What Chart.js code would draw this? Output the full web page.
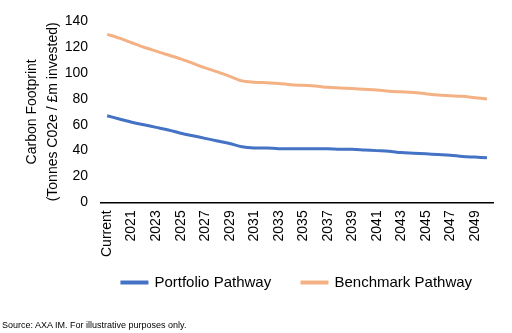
<!DOCTYPE html>
<html>
<head>
<meta charset="utf-8">
<script src="https://cdn.jsdelivr.net/npm/chart.js@4/dist/chart.umd.min.js"></script>
<style>
  html, body { margin: 0; padding: 0; background: #fff; }
  #wrap { position: relative; width: 512px; height: 333px; }
  #source { position: absolute; left: 2px; top: 320px; font: 9px "Liberation Sans", Arial, sans-serif; color: #000; }
</style>
</head>
<body>
<div id="wrap">
  <canvas id="line-chart" width="512" height="333"></canvas>
  <div id="source">Source: AXA IM. For illustrative purposes only.</div>
</div>
<script>
  const categories = ['Current', '2020', '2021', '2022', '2023', '2024', '2025', '2026', '2027', '2028',
    '2029', '2030', '2031', '2032', '2033', '2034', '2035', '2036', '2037', '2038', '2039', '2040',
    '2041', '2042', '2043', '2044', '2045', '2046', '2047', '2048', '2049', '2050'];

  const portfolio = [67, 64.5, 62, 60, 58, 56, 53.5, 51.5, 49.5, 47.5, 45.5, 43, 42, 42, 41.5, 41.5,
    41.5, 41.5, 41.5, 41, 41, 40.5, 40, 39.5, 38.5, 38, 37.5, 37, 36.5, 35.5, 35, 34.5];

  const benchmark = [130, 127, 123.5, 120, 117, 114, 111, 107.5, 104, 101, 97.5, 94, 93, 92.5, 92, 91,
    90.5, 90, 89, 88.5, 88, 87.5, 87, 86, 85.5, 85, 84, 83, 82.5, 82, 81, 80];

  const yTicks = [0, 20, 40, 60, 80, 100, 120, 140];

  const FONT = '"Liberation Sans", Arial, sans-serif';

  // legend in the original sits centred under the plot, not the whole canvas
  const legendShift = {
    id: 'legendShift',
    afterLayout(chart) {
      chart.legend.left += 96;
    }
  };

  const chartElement = document.getElementById('line-chart');

  const myChart = new Chart(chartElement, {
    type: 'line',
    data: {
      labels: categories,
      datasets: [
        {
          label: 'Portfolio Pathway',
          data: portfolio,
          borderColor: '#4472C4',
          backgroundColor: '#4472C4',
          borderWidth: 3,
          pointRadius: 0,
          tension: 0.3,
          fill: false
        },
        {
          label: 'Benchmark Pathway',
          data: benchmark,
          borderColor: '#F4B183',
          backgroundColor: '#F4B183',
          borderWidth: 3,
          pointRadius: 0,
          tension: 0.3,
          fill: false
        }
      ]
    },
    options: {
      responsive: false,
      animation: false,
      layout: {
        padding: { top: 2, right: 14, bottom: 33, left: 0 }
      },
      scales: {
        x: {
          offset: true,
          grid: { display: false, drawTicks: false },
          border: { display: true, color: '#000', width: 1.5 },
          ticks: {
            autoSkip: false,
            maxRotation: 90,
            minRotation: 90,
            color: '#000',
            font: { family: FONT, size: 14 },
            padding: 8,
            callback: function (value, index) {
              return index % 2 === 0 ? categories[index] : '';
            }
          }
        },
        y: {
          min: 0,
          max: 140,
          grid: { display: false, drawTicks: false },
          border: { display: false },
          afterBuildTicks: function (scale) {
            scale.ticks = yTicks.map(v => ({ value: v }));
          },
          afterFit: function (scale) {
            scale.width = 101;
          },
          ticks: {
            color: '#000',
            font: { family: FONT, size: 14 },
            padding: 13
          },
          title: {
            display: true,
            text: ['Carbon Footprint', '(Tonnes C02e / £m invested)'],
            color: '#000',
            font: { family: FONT, size: 14, lineHeight: 1.5 },
            padding: { top: 22, bottom: 0 }
          }
        }
      },
      plugins: {
        legend: {
          position: 'bottom',
          labels: {
            color: '#000',
            font: { family: FONT, size: 15 },
            boxWidth: 25,
            boxHeight: 1,
            padding: 10,
            generateLabels: function (chart) {
              const items = Chart.defaults.plugins.legend.labels.generateLabels(chart);
              items[0].text = items[0].text + '     ';
              return items;
            }
          }
        },
        tooltip: { enabled: false }
      }
    },
    plugins: [legendShift]
  });
</script>
</body>
</html>
